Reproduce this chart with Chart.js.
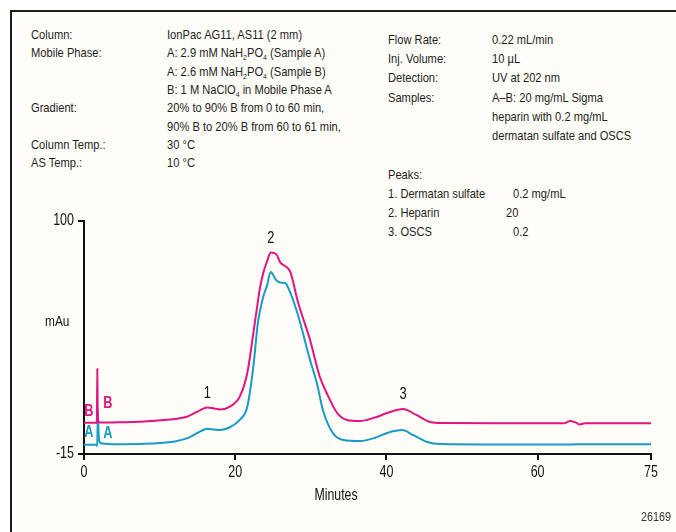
<!DOCTYPE html>
<html>
<head>
<meta charset="utf-8">
<script src="https://cdn.jsdelivr.net/npm/chart.js@4"></script>
<style>
  html, body { margin: 0; padding: 0; background: #ffffff; }
  #page { position: relative; width: 676px; height: 532px; overflow: hidden; }
  #frame {
    position: absolute; left: 10px; top: 10px; width: 690px; height: 550px;
    border: 2px solid #1c1c1c; background: #fffdf7;
  }
  #chart { position: absolute; left: 0; top: 0; }
  .t {
    position: absolute; white-space: nowrap; color: #1e1e1e;
    font: 12.8px 'Liberation Sans', Arial, sans-serif;
    line-height: 18px;
    transform: scaleX(0.87); transform-origin: 0 50%;
  }
  .t sub { font-size: 8px; vertical-align: -3px; line-height: 0; }
</style>
</head>
<body>
<div id="page">
  <div id="frame"></div>
  <div id="info"></div>
  <canvas id="chart" width="676" height="532"></canvas>
</div>
<script>
// ===============================
// Data
// ===============================
const xTicks = [0, 20, 40, 60, 75];
const yTicks = [-15, 100];

// trace B (upper, magenta)
const timesB = [0, 1.6, 1.7, 1.76, 1.82, 1.9, 2.3, 4, 8, 10.5, 12, 13.6, 15, 16.3, 17.2, 18, 19.3, 20.6, 21.6, 22.4,
  22.9, 23.3, 23.7, 24.2, 24.7, 25.4, 26.0, 26.6, 27.3, 28.3, 29.9, 31.2, 32.1, 33.5, 34.8, 36.5, 38.5, 40.1, 42.2,
  44.0, 45.8, 47.5, 55, 63.5, 64.3, 65.0, 65.6, 66.3, 70, 75];
const valuesB = [0.45, 0.45, 0.5, 27, 2, 0.8, 0.5, 0.6, 1.1, 1.8, 2.3, 3.4, 5.9, 8.0, 7.5, 7.0, 8.4, 13.3, 25, 44.7,
  57.6, 67.4, 74.2, 80, 84.4, 83.7, 79.3, 77.8, 74.8, 60, 41.3, 23.0, 15.1, 5.2, 1.8, 1.3, 3.0, 5.2, 7.2,
  4.2, 0.8, 0.3, 0.2, 0.2, 1.3, 0.6, -0.4, 0.2, 0.2, 0.2];

// trace A (lower, cyan)
const timesA = [0, 1.65, 1.75, 1.84, 1.92, 2.0, 2.4, 4, 8, 10.5, 12, 13.6, 15, 16.3, 17.2, 18, 19.3, 20.6, 21.6, 22.4,
  23.0, 23.7, 24.2, 24.7, 25.4, 26.0, 26.6, 27.3, 28.3, 29.9, 30.8, 31.6, 32.9, 34.3, 36.5, 38.5, 40.1, 42.1, 43.5,
  45.4, 47.1, 55, 64, 65, 70, 75];
const valuesA = [-10.4, -10.4, -11, 7.2, -4, -8.5, -9.8, -10.2, -10.0, -9.4, -8.8, -7.3, -4.6, -2.5, -2.9, -3.2, -1.8, 1.8, 8.3, 28.1,
  49.7, 62.5, 68, 74.8, 70.9, 69.6, 69.4, 64.5, 53.6, 31.4, 20.0, 6.7, -4.6, -8.1, -8.6, -7.0, -4.6, -3.2, -5.6,
  -9.1, -10.1, -10.3, -10.3, -10.2, -10.2, -10.2];

// peak numbers, placed above trace B
const peakNames = ["1", "2", "3"];
const peakTimes = [16.3, 24.7, 42.2];
const peakHeights = [8.0, 84.4, 7.2];

// trace letters
const traceLetters = ["B", "B", "A", "A"];
const letterTimes = [0.66, 3.17, 0.66, 3.17];
const letterValues = [5.7, 9.7, -4.6, -5.1];

const colorB = "#e3137f";
const colorA = "#179cc8";
const FONT = "'Liberation Sans', Arial, sans-serif";

// ===============================
// Header text (conditions)
// ===============================
const infoLeft = [
  ["Column:", "IonPac AG11, AS11 (2 mm)", 35],
  ["Mobile Phase:", "A: 2.9 mM NaH<sub>2</sub>PO<sub>4</sub> (Sample A)", 53],
  ["", "A: 2.6 mM NaH<sub>2</sub>PO<sub>4</sub> (Sample B)", 72],
  ["", "B: 1 M NaClO<sub>4</sub> in Mobile Phase A", 90],
  ["Gradient:", "20% to 90% B from 0 to 60 min,", 108],
  ["", "90% B to 20% B from 60 to 61 min,", 127],
  ["Column Temp.:", "30 °C", 145],
  ["AS Temp.:", "10 °C", 163]
];
const infoRight = [
  ["Flow Rate:", "0.22 mL/min", 40],
  ["Inj. Volume:", "10 µL", 59],
  ["Detection:", "UV at 202 nm", 78],
  ["Samples:", "A–B: 20 mg/mL Sigma", 98],
  ["", "heparin with 0.2 mg/mL", 117],
  ["", "dermatan sulfate and OSCS", 136],
  ["Peaks:", "", 175]
];
const peakRows = [
  ["1. Dermatan sulfate", "0.2 mg/mL", 194, 513],
  ["2. Heparin", "20", 213, 506],
  ["3. OSCS", "0.2", 232, 513]
];

const info = document.getElementById("info");
function addText(x, yCenter, html) {
  const d = document.createElement("div");
  d.className = "t";
  d.style.left = x + "px";
  d.style.top = (yCenter - 9) + "px";
  d.innerHTML = html;
  info.appendChild(d);
}
infoLeft.forEach(r => { addText(31, r[2], r[0]); addText(167, r[2], r[1]); });
infoRight.forEach(r => { addText(388, r[2], r[0]); if (r[1]) addText(492, r[2], r[1]); });
peakRows.forEach(r => { addText(388, r[2], r[0]); addText(r[3], r[2], r[1]); });

// ===============================
// Canvas text helper (condensed look)
// ===============================
function drawText(ctx, text, x, y, align, font, sx, color) {
  ctx.save();
  ctx.translate(x, y);
  ctx.scale(sx, 1);
  ctx.font = font;
  ctx.fillStyle = color;
  ctx.textAlign = align;
  ctx.textBaseline = "middle";
  ctx.fillText(text, 0, 0);
  ctx.restore();
}

// ===============================
// Annotations plugin
// ===============================
const labelsPlugin = {
  id: "labels",
  afterDatasetsDraw(chart) {
    const ctx = chart.ctx;
    const xs = chart.scales.x, ys = chart.scales.y;
    const area = chart.chartArea;

    // axis tick labels, from the scales' own ticks
    xs.ticks.forEach((t, i) => {
      drawText(ctx, String(t.value), xs.getPixelForTick(i), area.bottom + 19, "center", "16px " + FONT, 0.78, "#111");
    });
    ys.ticks.forEach((t, i) => {
      drawText(ctx, String(t.value), area.left - 10, ys.getPixelForTick(i), "right", "16px " + FONT, 0.78, "#111");
    });

    peakNames.forEach((n, i) => {
      drawText(ctx, n, xs.getPixelForValue(peakTimes[i]), ys.getPixelForValue(peakHeights[i]) - 14,
        "center", "16px " + FONT, 0.8, "#111");
    });

    traceLetters.forEach((l, i) => {
      drawText(ctx, l, xs.getPixelForValue(letterTimes[i]), ys.getPixelForValue(letterValues[i]),
        "center", "bold 16px " + FONT, 0.8, l === "B" ? colorB : colorA);
    });

    drawText(ctx, "mAu", 45, 322, "left", "14px " + FONT, 0.85, "#111");
    drawText(ctx, "Minutes", 336, 496, "center", "16px " + FONT, 0.77, "#111");
    drawText(ctx, "26169", 671, 517, "right", "13px " + FONT, 0.83, "#333");
  }
};

// ===============================
// Chart
// ===============================
function toPoints(times, values) {
  return times.map((t, i) => ({ x: t, y: values[i] }));
}

function axisTicks(list) {
  return scale => { scale.ticks = list.map(v => ({ value: v })); };
}

function noPadding(scale) {
  scale.paddingLeft = 0; scale.paddingRight = 0;
  scale.paddingTop = 0; scale.paddingBottom = 0;
}

new Chart(document.getElementById("chart"), {
  type: "line",
  data: {
    datasets: [
      {
        label: "B",
        data: toPoints(timesB, valuesB),
        borderColor: colorB,
        borderWidth: 2,
        pointRadius: 0,
        cubicInterpolationMode: "monotone"
      },
      {
        label: "A",
        data: toPoints(timesA, valuesA),
        borderColor: colorA,
        borderWidth: 2,
        pointRadius: 0,
        cubicInterpolationMode: "monotone"
      }
    ]
  },
  options: {
    responsive: false,
    animation: false,
    layout: { padding: { top: 221, right: 25, bottom: 38, left: 0 } },
    plugins: {
      legend: { display: false },
      tooltip: { enabled: false }
    },
    scales: {
      x: {
        type: "linear",
        min: 0,
        max: 75,
        afterBuildTicks: axisTicks(xTicks),
        afterFit: scale => { scale.height = 40; noPadding(scale); },
        border: { display: true, color: "#111", width: 2 },
        grid: { drawOnChartArea: false, drawTicks: true, tickLength: 6, color: "#111", lineWidth: 2 },
        ticks: { display: false }
      },
      y: {
        min: -15,
        max: 100,
        afterBuildTicks: axisTicks(yTicks),
        afterFit: scale => { scale.width = 84; noPadding(scale); },
        border: { display: true, color: "#111", width: 2 },
        grid: { drawOnChartArea: false, drawTicks: true, tickLength: 6, color: "#111", lineWidth: 2 },
        ticks: { display: false }
      }
    }
  },
  plugins: [labelsPlugin]
});
</script>
</body>
</html>
